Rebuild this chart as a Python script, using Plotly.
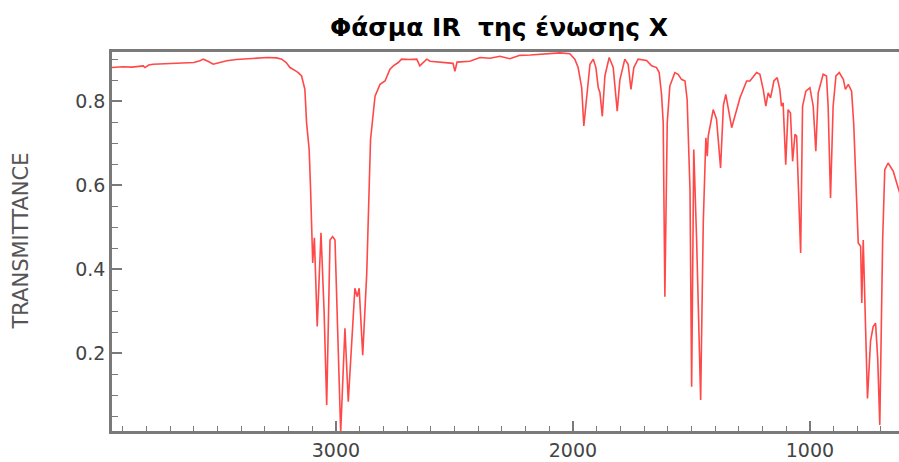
import plotly.graph_objects as go

# IR spectrum
wavenumber = [
    3945, 3900, 3860, 3813, 3806, 3790, 3771, 3700, 3644, 3600, 3574, 3560, 3540, 3518,
    3490, 3461, 3420, 3363, 3292, 3250, 3229, 3210, 3194, 3170, 3159, 3145, 3131, 3124,
    3117, 3115, 3113, 3107, 3101, 3098, 3091, 3079, 3063, 3050, 3039, 3025, 3014, 3004,
    2980, 2962, 2948, 2920, 2910, 2902, 2887, 2870, 2854, 2835, 2814, 2793, 2772, 2758,
    2737, 2723, 2690, 2659, 2646, 2630, 2617, 2603, 2540, 2506, 2498, 2489, 2435, 2392,
    2350, 2308, 2266, 2224, 2180, 2139, 2076, 2055, 2013, 1992, 1978, 1963, 1954, 1942,
    1928, 1914, 1903, 1893, 1886, 1876, 1865, 1847, 1830, 1813, 1802, 1781, 1767, 1755,
    1743, 1725, 1689, 1668, 1647, 1636, 1626, 1619, 1612, 1602, 1591, 1570, 1556, 1542,
    1527, 1518, 1506, 1499, 1490, 1478, 1468, 1461, 1450, 1439, 1433, 1429, 1408, 1394,
    1377, 1365, 1355, 1330, 1295, 1267, 1253, 1225, 1211, 1197, 1186, 1176, 1166, 1152,
    1138, 1127, 1120, 1113, 1102, 1092, 1082, 1073, 1063, 1056, 1039, 1031, 1017, 1000,
    986, 975, 965, 944, 930, 923, 913, 902, 890, 876, 859, 850, 838, 824,
    815, 803, 796, 786, 781, 775, 768, 757, 744, 733, 723, 714, 705, 693,
    684, 670, 648, 625, 610,
]
transmittance = [
    0.880, 0.882, 0.881, 0.884, 0.880, 0.886, 0.888, 0.889, 0.890, 0.892, 0.896, 0.900, 0.895, 0.888,
    0.892, 0.896, 0.899, 0.901, 0.904, 0.903, 0.900, 0.892, 0.880, 0.872, 0.868, 0.860, 0.828, 0.749,
    0.709, 0.712, 0.685, 0.590, 0.470, 0.415, 0.475, 0.264, 0.487, 0.300, 0.077, 0.470, 0.478, 0.470,
    0.012, 0.260, 0.085, 0.355, 0.335, 0.355, 0.196, 0.391, 0.709, 0.812, 0.840, 0.848, 0.876, 0.884,
    0.892, 0.900, 0.899, 0.900, 0.884, 0.893, 0.900, 0.895, 0.892, 0.890, 0.871, 0.893, 0.895, 0.904,
    0.902, 0.907, 0.901, 0.909, 0.910, 0.912, 0.914, 0.915, 0.913, 0.900, 0.880, 0.832, 0.741, 0.816,
    0.888, 0.900, 0.880, 0.832, 0.820, 0.764, 0.860, 0.904, 0.880, 0.776, 0.850, 0.900, 0.888, 0.828,
    0.880, 0.900, 0.897, 0.884, 0.880, 0.868, 0.816, 0.749, 0.335, 0.749, 0.836, 0.868, 0.864, 0.852,
    0.848, 0.804, 0.590, 0.121, 0.685, 0.470, 0.256, 0.089, 0.510, 0.713, 0.669, 0.717, 0.780, 0.757,
    0.641, 0.790, 0.816, 0.737, 0.808, 0.848, 0.848, 0.868, 0.864, 0.828, 0.788, 0.820, 0.808, 0.848,
    0.856, 0.828, 0.788, 0.796, 0.649, 0.780, 0.772, 0.657, 0.721, 0.717, 0.439, 0.788, 0.824, 0.832,
    0.788, 0.681, 0.820, 0.864, 0.860, 0.788, 0.570, 0.788, 0.860, 0.868, 0.852, 0.828, 0.840, 0.824,
    0.745, 0.590, 0.463, 0.455, 0.320, 0.470, 0.330, 0.093, 0.230, 0.264, 0.272, 0.190, 0.030, 0.470,
    0.637, 0.653, 0.633, 0.586, 0.560,
]

x_ticks = [3000, 2000, 1000]
x_tick_labels = ["3000", "2000", "1000"]
y_ticks = [0.2, 0.4, 0.6, 0.8]
y_tick_labels = ["0.2", "0.4", "0.6", "0.8"]

title_text = "Φάσμα IR \u00a0της ένωσης X"
y_title = "TRANSMITTANCE"

frame = "#7a7a7a"

fig = go.Figure()
fig.add_trace(go.Scatter(
    x=wavenumber, y=transmittance, mode="lines",
    line=dict(color="rgba(255,40,40,0.85)", width=1.6),
    hoverinfo="skip", showlegend=False,
))

fig.update_layout(
    width=899, height=462,
    margin=dict(l=112, r=0, t=52, b=31, pad=0),
    paper_bgcolor="white", plot_bgcolor="white",
    title=dict(text="<b>" + title_text + "</b>", x=499 / 899, xref="container", xanchor="center",
               y=1 - 27 / 462, yref="container", yanchor="middle",
               font=dict(family="DejaVu Sans", size=25, color="#000000")),
    annotations=[dict(text=y_title, textangle=-90, xref="paper", yref="paper",
                      x=(20 - 112) / 787, y=0.5, xanchor="center", yanchor="middle",
                      showarrow=False,
                      font=dict(family="DejaVu Sans", size=21, color="#555555"))],
)
fig.update_xaxes(
    range=[3945, 624], autorange=False,
    tickvals=x_ticks, ticktext=x_tick_labels,
    ticks="inside", ticklen=10, tickwidth=1.5, tickcolor=frame,
    minor=dict(ticks="inside", ticklen=5, tickwidth=1.2, tickcolor=frame, dtick=100, tick0=0, showgrid=False),
    showline=True, linecolor=frame, linewidth=2.5, mirror=True,
    showgrid=False, zeroline=False,
    tickfont=dict(family="DejaVu Sans", size=19, color="#444444"),
)
fig.update_yaxes(
    range=[0.0155, 0.917], autorange=False,
    tickvals=y_ticks, ticktext=y_tick_labels,
    ticks="inside", ticklen=10, tickwidth=1.5, tickcolor=frame,
    minor=dict(ticks="inside", ticklen=6, tickwidth=1.2, tickcolor=frame, dtick=0.05, tick0=0, showgrid=False),
    showline=True, linecolor=frame, linewidth=2.5, mirror=False,
    showgrid=False, zeroline=False,
    tickfont=dict(family="DejaVu Sans", size=19, color="#444444"),
)

fig.write_html("out.html")
